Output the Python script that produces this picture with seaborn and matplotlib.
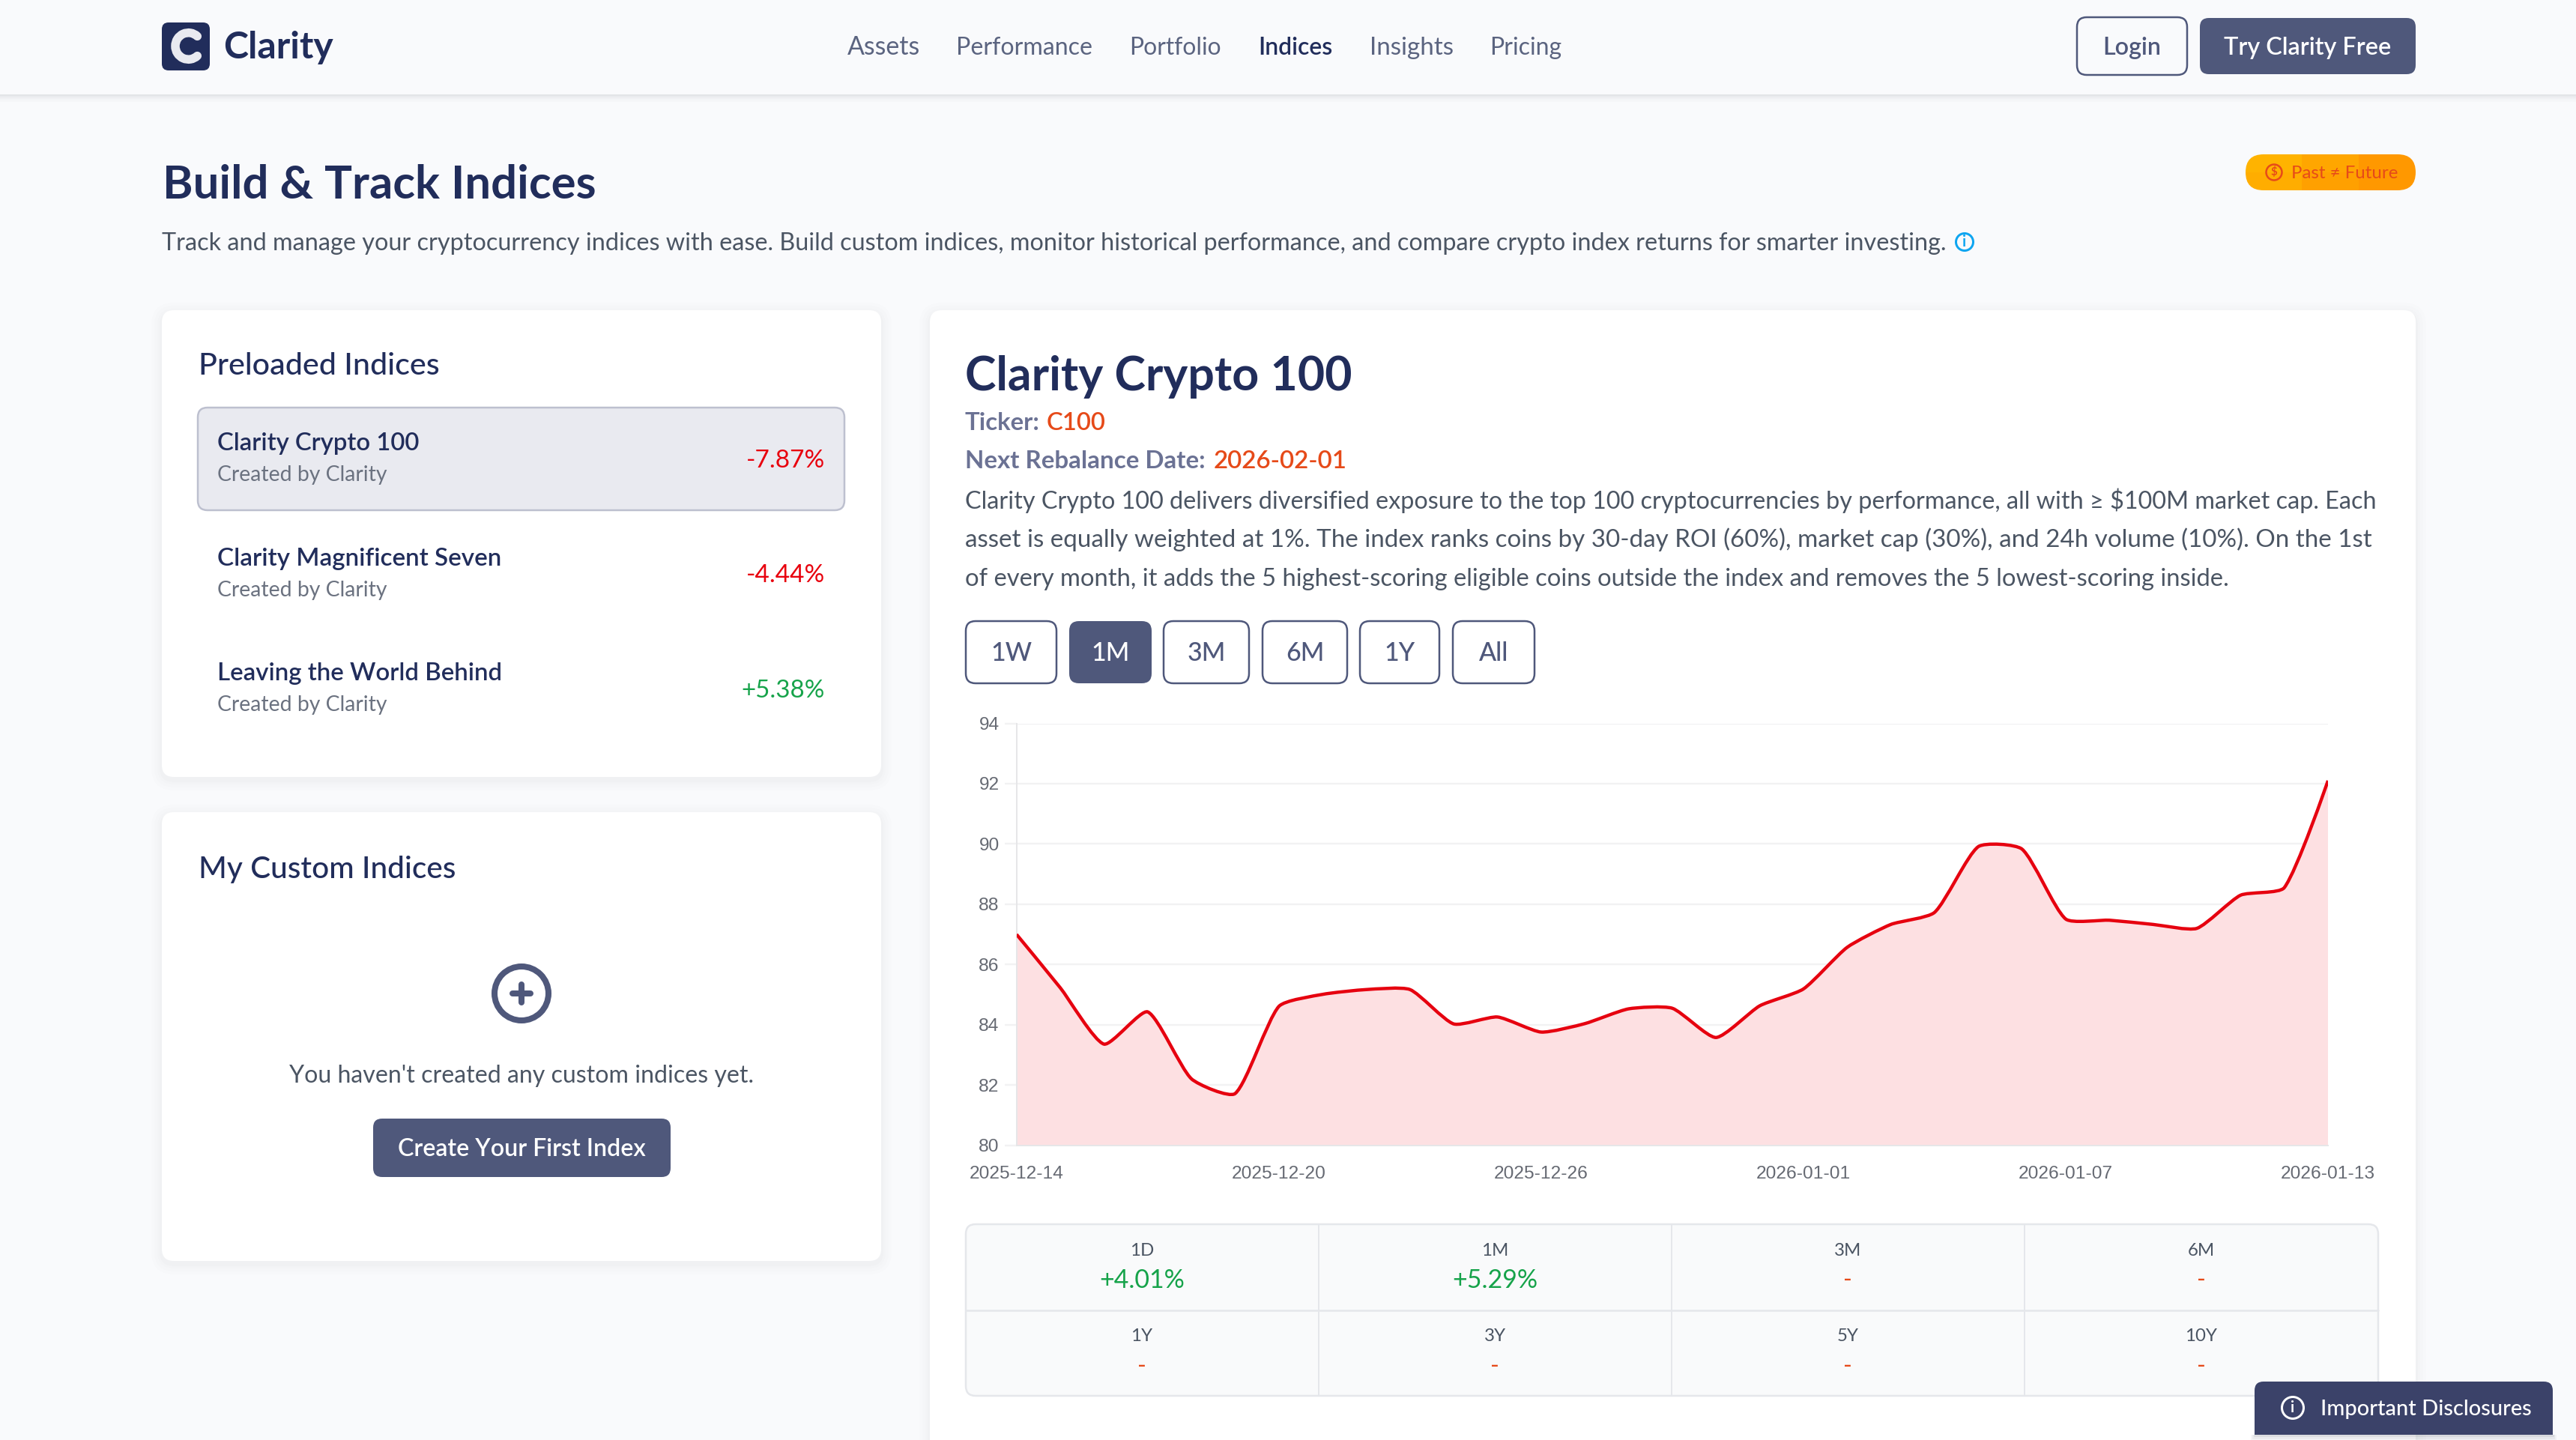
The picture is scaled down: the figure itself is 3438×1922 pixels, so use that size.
import numpy as np
import pandas as pd
import matplotlib
matplotlib.use("Agg")
import matplotlib.pyplot as plt
from matplotlib.patches import FancyBboxPatch, Rectangle, Circle, PathPatch, Arc
from matplotlib.path import Path
import seaborn as sns

# ---------- data ----------
dates = pd.date_range("2025-12-14", "2026-01-13", freq="D")
index_values = [87.0, 85.23, 83.36, 84.43, 82.21, 81.72, 84.61, 85.01, 85.17, 85.17,
                84.03, 84.26, 83.76, 84.04, 84.53, 84.55, 83.58, 84.63, 85.19, 86.57,
                87.33, 87.73, 89.91, 89.83, 87.51, 87.47, 87.33, 87.20, 88.30, 88.55, 92.10]
y_ticks = [80, 82, 84, 86, 88, 90, 92, 94]
x_tick_labels = ["2025-12-14", "2025-12-20", "2025-12-26", "2026-01-01", "2026-01-07", "2026-01-13"]

nav_links = ["Assets", "Performance", "Portfolio", "Indices", "Insights", "Pricing"]
indices_names = ["Clarity Crypto 100", "Clarity Magnificent Seven", "Leaving the World Behind"]
indices_returns = ["-7.87%", "-4.44%", "+5.38%"]
range_buttons = ["1W", "1M", "3M", "6M", "1Y", "All"]
stat_labels = [["1D", "1M", "3M", "6M"], ["1Y", "3Y", "5Y", "10Y"]]
stat_values = [["+4.01%", "+5.29%", "-", "-"], ["-", "-", "-", "-"]]
description = [
    "Clarity Crypto 100 delivers diversified exposure to the top 100 cryptocurrencies by performance, all with ≥ $100M market cap. Each",
    "asset is equally weighted at 1%. The index ranks coins by 30-day ROI (60%), market cap (30%), and 24h volume (10%). On the 1st",
    "of every month, it adds the 5 highest-scoring eligible coins outside the index and removes the 5 lowest-scoring inside.",
]

# ---------- style ----------
NAVY = "#212d5b"; SLATE = "#4f587b"; BODY = "#4b5563"; MUTED = "#6b7280"
ORANGE = "#e64a19"; RED = "#e8000d"; GREEN = "#16a34a"; PAGE = "#f9fafc"
W, H, DPI = 3438, 1922, 100
sns.set_theme(style="white")
plt.rcParams["font.family"] = ["Lato", "DejaVu Sans"]

fig = plt.figure(figsize=(W / DPI, H / DPI), dpi=DPI, facecolor=PAGE)
ui = fig.add_axes([0, 0, 1, 1], zorder=0)
ui.set_xlim(0, W); ui.set_ylim(H, 0); ui.axis("off")
renderer = fig.canvas.get_renderer()
DY = 0


def px(size):
    return size * 72 / DPI


def rrect(x0, y0, x1, y1, r=12, fc="white", ec="none", lw=0, z=2, alpha=None):
    y0 += DY; y1 += DY
    p = FancyBboxPatch((x0 + r, y0 + r), x1 - x0 - 2 * r, y1 - y0 - 2 * r,
                       boxstyle=f"round,pad={r},rounding_size={r}", fc=fc, ec=ec,
                       lw=px(lw), zorder=z, alpha=alpha)
    ui.add_patch(p)
    return p


def txt(x, y, s, size=32, color=BODY, weight="normal", ha="left", va="baseline", z=5, fit=None):
    t = ui.text(x, y + DY, s, fontsize=px(size), color=color, fontweight=weight, ha=ha, va=va,
                zorder=z, parse_math=False)
    if fit:
        t.set_fontsize(t.get_fontsize() * fit / t.get_window_extent(renderer).width)
    return t


def card(x0, y0, x1, y1):
    for k, a in [(14, .006), (10, .007), (6, .009), (3, .012)]:
        rrect(x0 - k, y0 - k + 4, x1 + k, y1 + k + 4, r=16 + k, fc="#1f2937", alpha=a, z=1)
    rrect(x0, y0, x1, y1, r=16, fc="white", z=2)


# ---------- nav bar ----------
ui.add_patch(Rectangle((0, 0), W, 127, fc=PAGE, ec="none", zorder=1))
for i, a in enumerate([.10, .07, .045, .025, .012]):
    ui.add_patch(Rectangle((0, 126 + i * 2), W, 2, fc="#1f2937", alpha=a, ec="none", zorder=1))
rrect(216, 30, 280, 94, r=9, fc=NAVY)
ui.add_patch(Arc((251.5, 61.5), 35, 35.5, theta1=48, theta2=312, ec="#e9eaf0", lw=px(11.5),
                 capstyle="round", zorder=4))
txt(298, 78, "Clarity", size=49, color=NAVY, weight="bold", fit=147)
nav_x = [1131, 1276, 1507, 1679, 1828, 1988]
nav_w = [97, 182, 123, 99, 112, 96]
for x, s, w_ in zip(nav_x, nav_links, nav_w):
    active = s == "Indices"
    txt(x, 73, s, size=32, color=NAVY if active else "#5b6480",
        weight="semibold" if active else "normal", fit=w_)
rrect(2772, 23, 2919, 100, r=13, fc="none", ec=SLATE, lw=2.5)
txt(2845, 73, "Login", size=32, color=SLATE, weight="semibold", ha="center", fit=78)
rrect(2936, 24, 3224, 99, r=12, fc=SLATE)
txt(3080, 73, "Try Clarity Free", size=32, color="white", weight="semibold", ha="center", fit=224)

badge = rrect(2997, 206, 3224, 254, r=24, fc="none")
grad = np.array([[0.0, .45, 1.0], [.2, .7, 1.0]])
img = ui.imshow(grad, extent=(2997, 3224, 254, 206), aspect="auto", zorder=3,
                cmap=matplotlib.colors.LinearSegmentedColormap.from_list("b", ["#ffb300", "#ff9800"]))
img.set_clip_path(badge)
ui.set_xlim(0, W); ui.set_ylim(H, 0)
ui.add_patch(Circle((3035, 230), 10.5, fc="none", ec=ORANGE, lw=px(2.5), zorder=5))
txt(3035, 230, "$", size=15, color=ORANGE, weight="bold", ha="center", va="center")
txt(3058, 238, "Past ≠ Future", size=24, color=ORANGE, fit=142)

# everything below the bar and badge sits 2px lower
DY = 2

# ---------- header ----------
txt(217, 263, "Build & Track Indices", size=60, color=NAVY, weight="bold", fit=578)
txt(216, 332, "Track and manage your cryptocurrency indices with ease. Build custom indices, monitor historical performance, and compare crypto index returns for smarter investing.",
    size=32, fit=2383)
ui.add_patch(Circle((2622, 323), 11.5, fc="none", ec="#0ea5f0", lw=px(3), zorder=5))
ui.text(2622, 323, "i", fontsize=px(20), color="#0ea5f0", fontweight="bold", ha="center", va="center", zorder=5)

# ---------- left cards ----------
card(216, 412, 1176, 1035)
txt(265, 498, "Preloaded Indices", size=40, color=NAVY, weight="medium", fit=322)
rrect(264, 542, 1127, 679, r=13, fc="#e9eaf0", ec="#bdc0cf", lw=2.5, z=3)
name_y = [599, 753, 906]
sub_y = [640, 794, 947]
pct_y = [622, 775, 929]
name_w = [270, 380, 380]
pct_w = [105, 105, 111]
for n, r, a, b, c, nw, pw in zip(indices_names, indices_returns, name_y, sub_y, pct_y, name_w, pct_w):
    txt(290, a, n, size=32, color=NAVY, weight="semibold", fit=nw)
    txt(290, b, "Created by Clarity", size=28, color=MUTED, fit=226)
    txt(1101, c, r, size=32, color=GREEN if r.startswith("+") else RED, ha="right", fit=pw)

card(216, 1082, 1176, 1681)
txt(265, 1170, "My Custom Indices", size=40, color=NAVY, weight="medium", fit=343)
ui.add_patch(Circle((696, 1326), 36, fc="none", ec=SLATE, lw=px(8), zorder=5))
ui.plot([684, 708], [1326, 1326], color=SLATE, lw=px(8), solid_capstyle="round", zorder=5)
ui.plot([696, 696], [1314, 1338], color=SLATE, lw=px(8), solid_capstyle="round", zorder=5)
txt(696, 1443, "You haven't created any custom indices yet.", size=32, ha="center", fit=620)
rrect(498, 1491, 895, 1569, r=12, fc=SLATE)
txt(696, 1541, "Create Your First Index", size=32, color="white", weight="semibold", ha="center", fit=331)

# ---------- right card ----------
card(1241, 412, 3224, 2050)
txt(1288, 519, indices_names[0], size=60, color=NAVY, weight="bold", fit=516)
txt(1288, 572, "Ticker:", size=32, color="#6b7294", weight="bold", fit=100)
txt(1397, 572, "C100", size=32, color=ORANGE, weight="semibold", fit=79)
txt(1288, 623, "Next Rebalance Date:", size=32, color="#6b7294", weight="bold", fit=322)
txt(1620, 623, "2026-02-01", size=32, color=ORANGE, weight="semibold", fit=178)
for y, line_, w_ in zip([677, 728, 780], description, [1885, 1880, 1687]):
    txt(1288, y, line_, size=32, fit=w_)

btn_x = [(1289, 1410), (1427, 1537), (1553, 1667), (1685, 1798), (1815, 1921), (1939, 2048)]
for (a, b), s in zip(btn_x, range_buttons):
    on = s == "1M"
    rrect(a, 827, b, 910, r=13, fc=SLATE if on else "white", ec=SLATE if not on else "none", lw=2.5, z=3)
    txt((a + b) / 2, 880, s, size=34, color="white" if on else SLATE, weight="medium", ha="center")

# ---------- chart ----------
L, R, T, B = 1356.7, 3107, 965.5, 1528.8
ax = fig.add_axes([L / W, 1 - B / H, (R - L) / W, (B - T) / H], zorder=3)
ax.patch.set_alpha(0)
df = pd.DataFrame({"date": dates, "value": index_values})
sns.lineplot(data=df, x="date", y="value", ax=ax, color="#e6000f", linewidth=px(4.4),
             errorbar=None, zorder=4)
ax.set_xlim(dates[0], dates[-1]); ax.set_ylim(80, 94)
ax.set_xlabel(""); ax.set_ylabel("")
ax.set_yticks(y_ticks)
ax.set_xticks(pd.to_datetime(x_tick_labels)); ax.set_xticklabels(x_tick_labels)
ax.grid(axis="y", color="#f2f2f3", lw=px(2.4), zorder=0); ax.grid(axis="x", visible=False)
ax.set_axisbelow(True)
for s in ("top", "right"):
    ax.spines[s].set_visible(False)
for s in ("left", "bottom"):
    ax.spines[s].set_color("#e6e6e8"); ax.spines[s].set_linewidth(px(2))
ax.tick_params(axis="y", length=px(16), width=px(2.4), color="#f2f2f3", pad=px(7),
               labelsize=px(24.5), labelcolor="#666a73", left=True)
ax.tick_params(axis="x", length=0, pad=px(27), labelsize=px(24.5), labelcolor="#666a73")
for t in ax.get_xticklabels() + ax.get_yticklabels():
    t.set_fontfamily(["Liberation Sans", "DejaVu Sans"])

# chart's curved line: Bezier through the plotted points
line = ax.lines[0]
line.recache()
P = ax.transData.transform(line.get_xydata())
TENSION = 0.2
d = np.hypot(*np.diff(P, axis=0).T)
ctrl_prev = P.copy(); ctrl_next = P.copy()
for i in range(1, len(P) - 1):
    s = P[i + 1] - P[i - 1]
    tot = d[i - 1] + d[i]
    ctrl_prev[i] = P[i] - TENSION * d[i - 1] / tot * s
    ctrl_next[i] = P[i] + TENSION * d[i] / tot * s
verts = [P[0]]; codes = [Path.MOVETO]
for i in range(len(P) - 1):
    verts += [ctrl_next[i], ctrl_prev[i + 1], P[i + 1]]
    codes += [Path.CURVE4] * 3
inv = ax.transData.inverted()
curve_v = inv.transform(np.array(verts))
curve = Path(curve_v, codes)
line._path = curve
line._transformed_path = None
line.set_solid_capstyle("butt")

base = ax.get_ylim()[0]
fill_v = np.vstack([curve_v, [curve_v[-1, 0], base], [curve_v[0, 0], base], curve_v[0]])
fill_c = codes + [Path.LINETO, Path.LINETO, Path.CLOSEPOLY]
ax.add_patch(PathPatch(Path(fill_v, fill_c), fc="#fde0e2", ec="none", zorder=2))

# ---------- stats table ----------
rrect(1289, 1632, 3174, 1861, r=13, fc="#f9fafb", ec="#e5e7eb", lw=2.5, z=3)
ui.plot([1289, 3174], [1749, 1749], color="#e5e7eb", lw=px(2.5), zorder=4)
for x in [1760, 2231, 2702]:
    ui.plot([x, x], [1635, 1862], color="#e5e7eb", lw=px(2), zorder=4)
col_x = [1524, 1995, 2466, 2938]
for lab_y, val_y, labs, vals in zip([1667, 1782], [1707, 1822], stat_labels, stat_values):
    for x, a, b in zip(col_x, labs, vals):
        txt(x, lab_y, a, size=24, ha="center", va="center")
        txt(x, val_y, b, size=32, color=GREEN if b.startswith("+") else ORANGE, ha="center", va="center",
            fit=114 if b != "-" else None)

# ---------- disclosure tab ----------
for k, a in [(10, .04), (6, .05), (3, .07)]:
    ui.add_patch(Rectangle((3009 - k / 2, 1915), 398 + k, k, fc="#1f2937", alpha=a, ec="none", zorder=5))
rrect(3009, 1842, 3407, 1880, r=12, fc="#3b4269", z=6)
ui.add_patch(Rectangle((3009, 1860), 398, 55, fc="#3b4269", ec="none", zorder=6))
ui.add_patch(Circle((3060, 1879), 14.5, fc="none", ec="white", lw=px(3), zorder=7))
ui.text(3060, 1879, "i", fontsize=px(20), color="white", fontweight="bold", ha="center", va="center", zorder=7)
txt(3097, 1887, "Important Disclosures", size=28, color="white", weight="medium", z=7, fit=281)

fig.savefig("out.png", dpi=DPI, facecolor=PAGE)
